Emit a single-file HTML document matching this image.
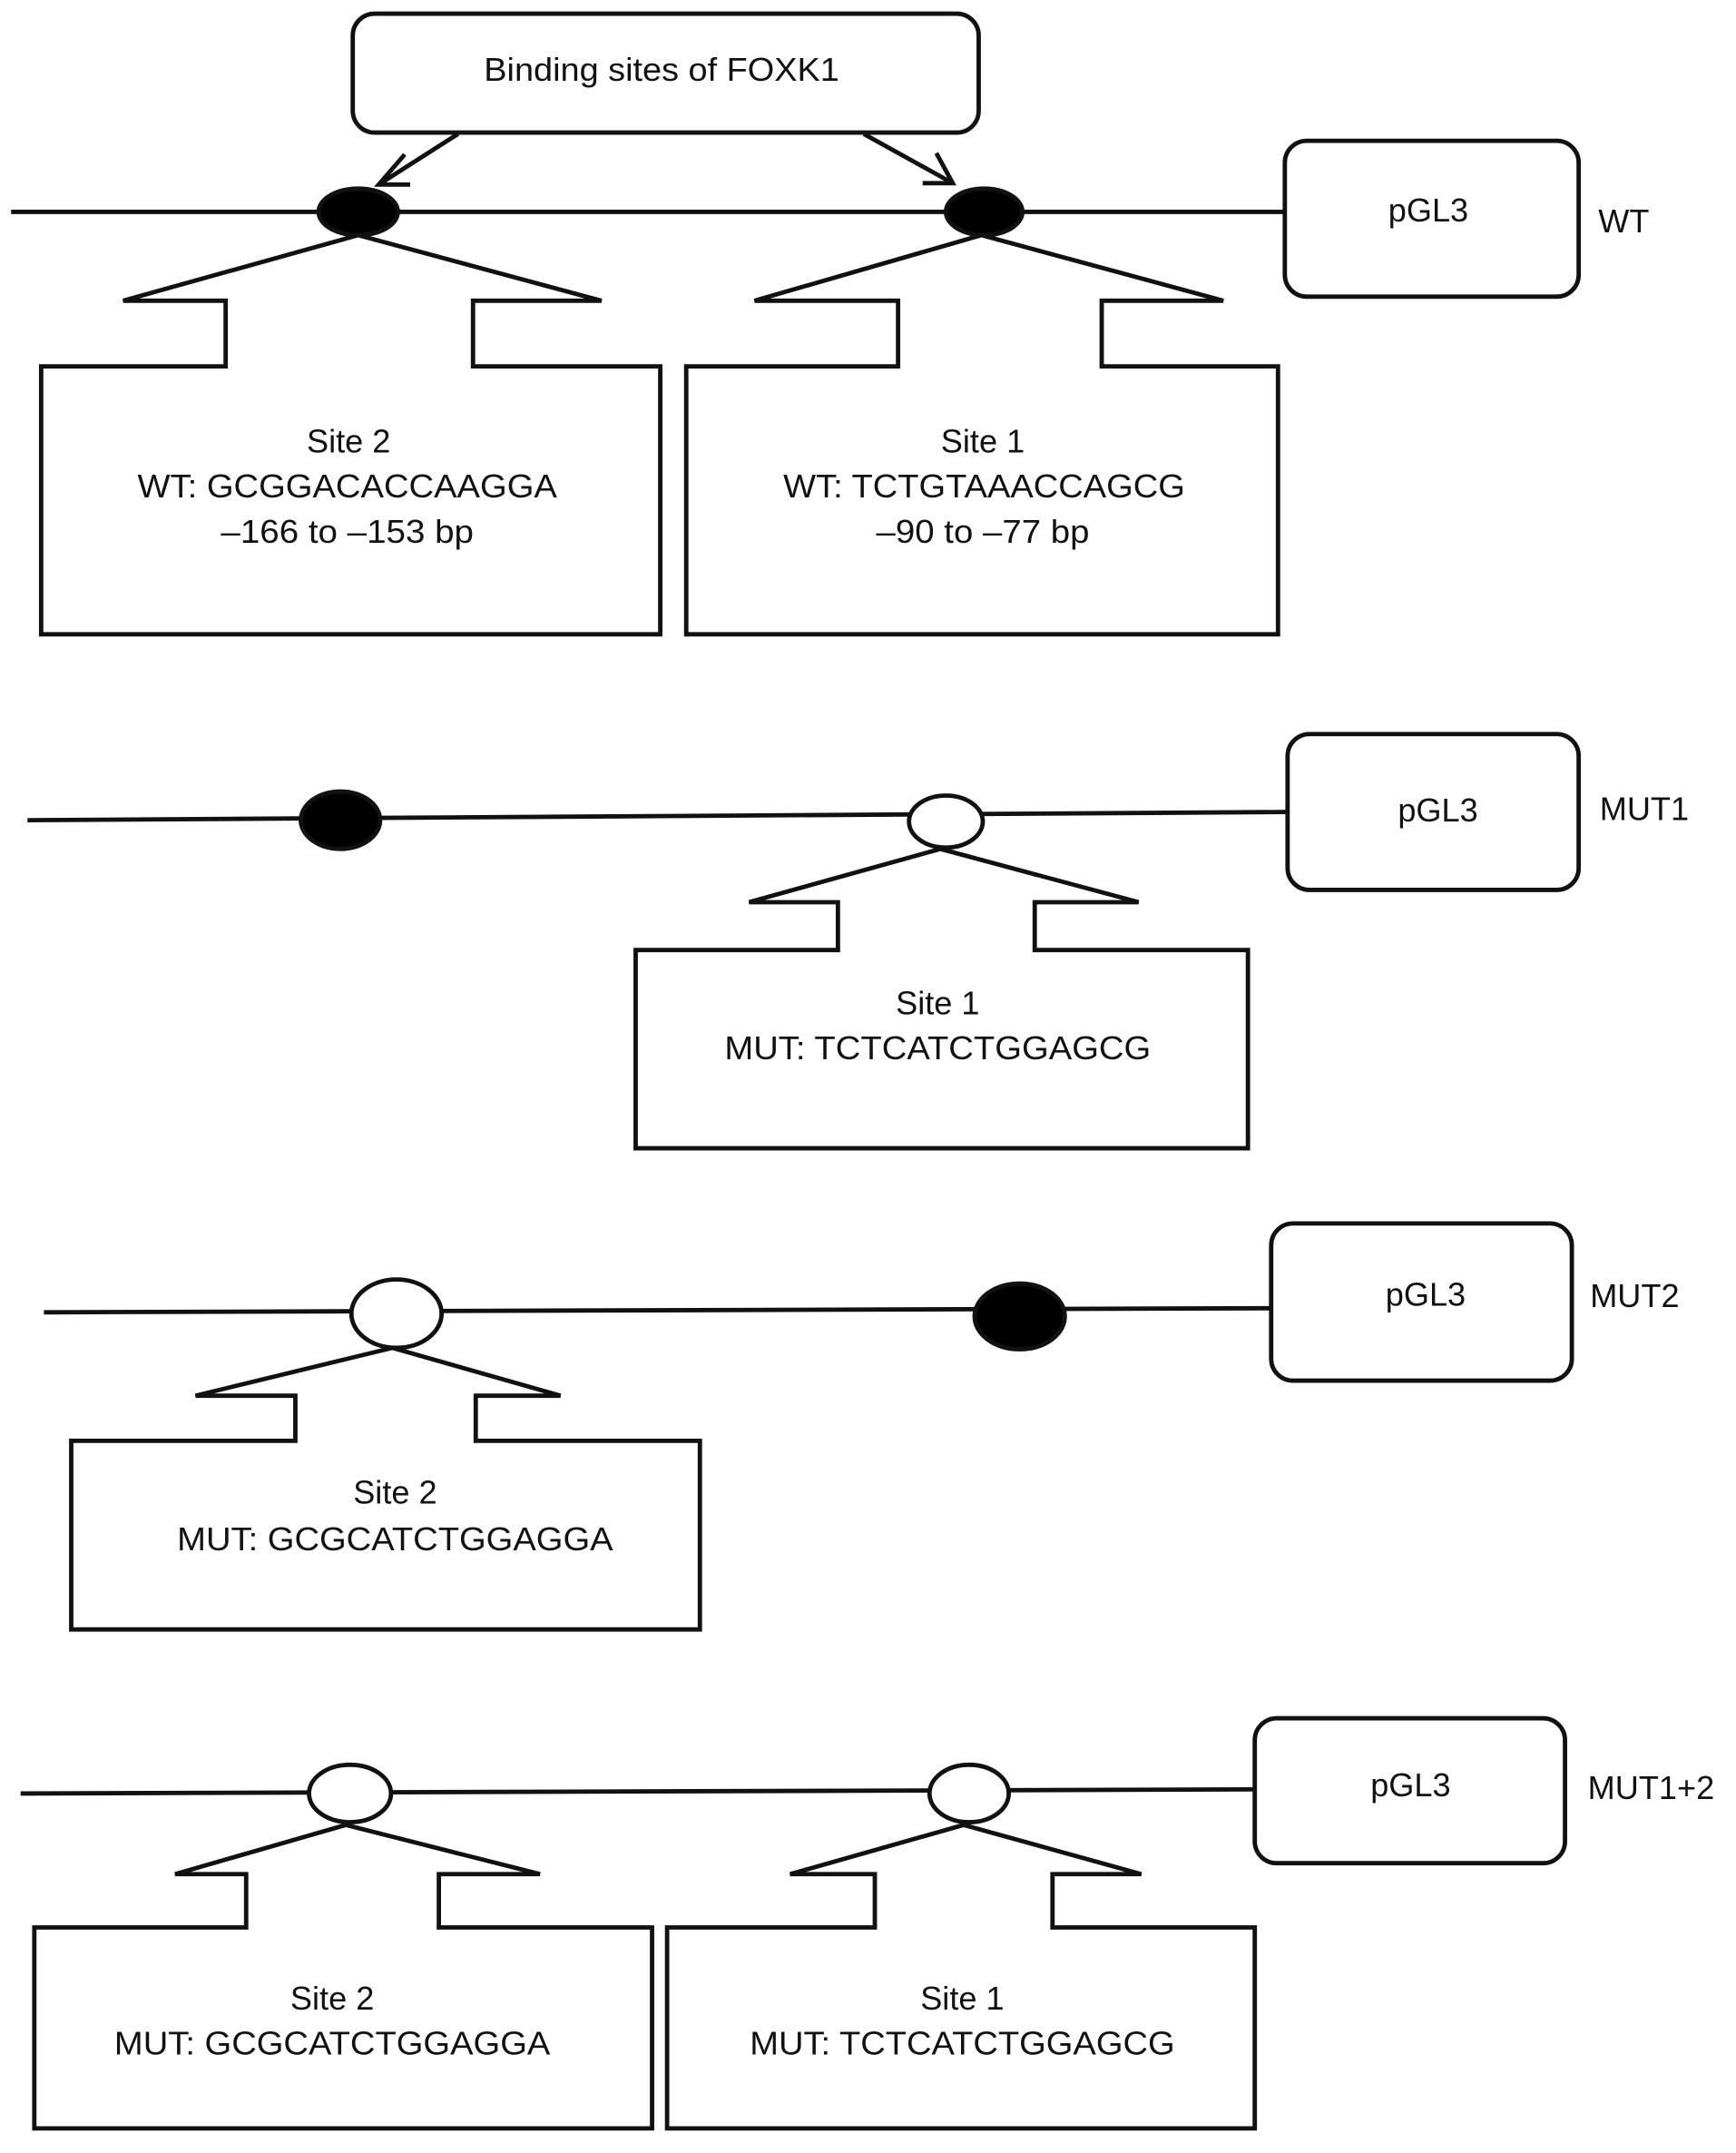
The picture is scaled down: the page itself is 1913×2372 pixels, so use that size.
<!DOCTYPE html>
<html><head><meta charset="utf-8"><style>
html,body{margin:0;padding:0;background:#fff;}
svg{display:block;}
text{font-family:"Liberation Sans",sans-serif;font-size:24px;fill:#111;text-anchor:middle;}
</style></head><body>
<svg width="1913" height="2372" viewBox="0 0 1270 1575" xmlns="http://www.w3.org/2000/svg">
<g fill="none" stroke="#111" stroke-width="3.2" stroke-linejoin="miter">
<!-- WT -->
<rect x="258" y="10" width="458" height="87" rx="16"/>
<line x1="8" y1="155" x2="940" y2="155"/>
<rect x="940" y="103" width="215" height="114" rx="16"/>
<line x1="335" y1="98" x2="277" y2="135"/>
<polyline points="296,113 277,135 300,135"/>
<line x1="632" y1="98" x2="697" y2="134"/>
<polyline points="685,112 697,134 675,134"/>
<path d="M262,172 L440,220 L346,220 L346,268 L483,268 L483,464 L30,464 L30,268 L165,268 L165,220 L90,220 Z"/>
<path d="M718,172 L895,220 L806,220 L806,268 L935,268 L935,464 L502,464 L502,268 L657,268 L657,220 L552,220 Z"/>
<!-- MUT1 -->
<line x1="20" y1="600" x2="942" y2="594"/>
<rect x="942" y="537" width="213" height="114" rx="16"/>
<path d="M688,621 L833,660 L757,660 L757,695 L913,695 L913,840 L465,840 L465,695 L613,695 L613,660 L548,660 Z"/>
<!-- MUT2 -->
<line x1="32" y1="960" x2="930" y2="957"/>
<rect x="930" y="895" width="220" height="115" rx="16"/>
<path d="M287,986 L410,1021 L348,1021 L348,1054 L512,1054 L512,1192 L52,1192 L52,1054 L216,1054 L216,1021 L143,1021 Z"/>
<!-- MUT1+2 -->
<line x1="15" y1="1312" x2="918" y2="1309"/>
<rect x="918" y="1257" width="227" height="106" rx="16"/>
<path d="M253,1335 L395,1371 L321,1371 L321,1410 L477,1410 L477,1557 L25,1557 L25,1410 L180,1410 L180,1371 L128,1371 Z"/>
<path d="M705,1335 L835,1371 L770,1371 L770,1410 L918,1410 L918,1557 L488,1557 L488,1410 L640,1410 L640,1371 L578,1371 Z"/>
</g>
<!-- ellipses -->
<g stroke="#111" stroke-width="3.2">
<ellipse cx="262" cy="155" rx="29" ry="17" fill="#000"/>
<ellipse cx="720" cy="155" rx="28" ry="17" fill="#000"/>
<ellipse cx="249" cy="600" rx="29" ry="21" fill="#000"/>
<ellipse cx="692" cy="601" rx="27" ry="19" fill="#fff"/>
<ellipse cx="290" cy="961" rx="33" ry="25" fill="#fff"/>
<ellipse cx="746" cy="963" rx="33" ry="24" fill="#000"/>
<ellipse cx="256" cy="1312" rx="30" ry="21" fill="#fff"/>
<ellipse cx="709" cy="1312" rx="29" ry="21" fill="#fff"/>
</g>
<!-- text -->
<text x="484" y="59" textLength="260" lengthAdjust="spacingAndGlyphs">Binding sites of FOXK1</text>
<text x="1045" y="162">pGL3</text>
<text x="1188" y="170">WT</text>
<text x="255" y="331">Site 2</text>
<text x="254" y="364" textLength="307" lengthAdjust="spacingAndGlyphs">WT: GCGGACACCAAGGA</text>
<text x="254" y="397" textLength="185" lengthAdjust="spacingAndGlyphs">–166 to –153 bp</text>
<text x="719" y="331">Site 1</text>
<text x="720" y="364" textLength="294" lengthAdjust="spacingAndGlyphs">WT: TCTGTAAACCAGCG</text>
<text x="719" y="397" textLength="156" lengthAdjust="spacingAndGlyphs">–90 to –77 bp</text>

<text x="1052" y="601">pGL3</text>
<text x="1203" y="600">MUT1</text>
<text x="686" y="742">Site 1</text>
<text x="686" y="775" textLength="312" lengthAdjust="spacingAndGlyphs">MUT: TCTCATCTGGAGCG</text>

<text x="1043" y="955">pGL3</text>
<text x="1196" y="956">MUT2</text>
<text x="289" y="1100">Site 2</text>
<text x="289" y="1134" textLength="319" lengthAdjust="spacingAndGlyphs">MUT: GCGCATCTGGAGGA</text>

<text x="1032" y="1314">pGL3</text>
<text x="1208" y="1316">MUT1+2</text>
<text x="243" y="1470">Site 2</text>
<text x="243" y="1503" textLength="319" lengthAdjust="spacingAndGlyphs">MUT: GCGCATCTGGAGGA</text>
<text x="704" y="1470">Site 1</text>
<text x="704" y="1503" textLength="311" lengthAdjust="spacingAndGlyphs">MUT: TCTCATCTGGAGCG</text>
</svg>
</body></html>
